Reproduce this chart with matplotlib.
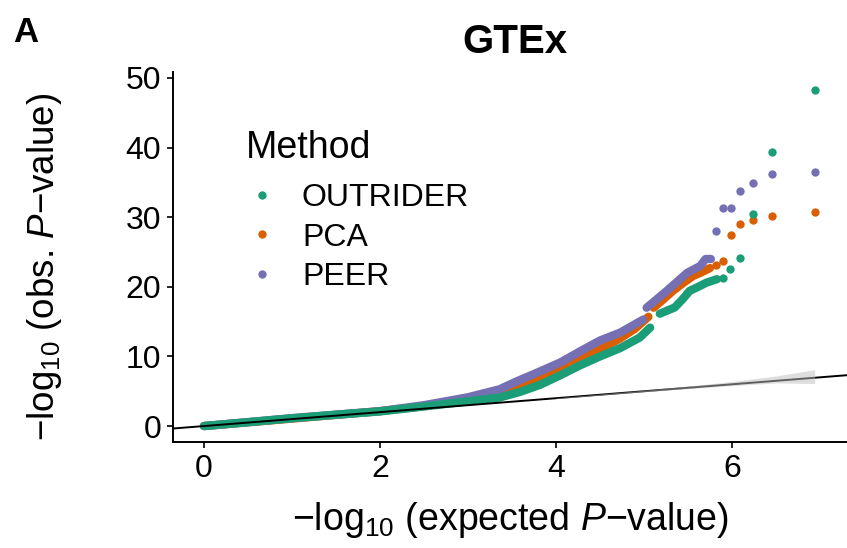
import matplotlib
matplotlib.use('Agg')
import matplotlib.pyplot as plt
from matplotlib.lines import Line2D

plt.rcParams['font.family'] = ['Liberation Sans', 'DejaVu Sans']
plt.rcParams['mathtext.fontset'] = 'custom'
plt.rcParams['mathtext.rm'] = 'Liberation Sans'
plt.rcParams['mathtext.it'] = 'Liberation Sans:italic'
plt.rcParams['mathtext.bf'] = 'Liberation Sans:bold'

methods = ['OUTRIDER', 'PCA', 'PEER']
colors = ['#1B9E77', '#D95F02', '#7570B3']

# OUTRIDER
outrider_band1_x = [0, 0.5, 1.0, 1.5, 2.0, 2.5, 3.0, 3.36, 3.59, 3.82, 4.05, 4.27, 4.5, 4.73, 4.95, 5.07]
outrider_band1_y = [0, 0.55, 1.12, 1.62, 2.1, 2.81, 3.55, 4.1, 4.9, 5.93, 7.3, 8.7, 10.0, 11.2, 12.7, 14.14]
outrider_band2_x = [5.18, 5.35, 5.44, 5.52, 5.60, 5.71, 5.83]
outrider_band2_y = [16.14, 17.04, 18.24, 19.43, 19.9, 20.6, 21.1]
outrider_tail_x = [5.90, 5.98, 6.094, 6.235, 6.46, 6.94]
outrider_tail_y = [21.24, 22.61, 24.14, 30.47, 39.43, 48.33]

# PCA
pca_band1_x = [0, 1.0, 2.0, 2.5, 3.0, 3.36, 3.82, 4.05, 4.27, 4.5, 4.73, 4.9, 5.05]
pca_band1_y = [0, 1.07, 2.14, 2.86, 3.9, 5.0, 6.7, 8.1, 9.5, 11.0, 12.6, 14.0, 15.7]
pca_band2_x = [5.11, 5.22, 5.33, 5.45, 5.56, 5.64, 5.75]
pca_band2_y = [17.0, 18.2, 19.43, 20.6, 21.57, 22.0, 22.7]
pca_tail_x = [5.82, 5.90, 5.985, 6.094, 6.235, 6.46, 6.94]
pca_tail_y = [23.14, 23.76, 27.39, 29.04, 29.53, 30.14, 30.81]

# PEER
peer_band1_x = [0, 0.5, 1.0, 1.5, 2.0, 2.5, 3.0, 3.36, 3.53, 3.82, 4.05, 4.27, 4.5, 4.73, 4.99]
peer_band1_y = [0, 0.57, 1.14, 1.64, 2.14, 3.0, 4.14, 5.29, 6.29, 7.86, 9.14, 10.71, 12.29, 13.43, 15.29]
peer_band2_x = [5.03, 5.26, 5.49, 5.64, 5.70, 5.76]
peer_band2_y = [17.0, 19.43, 22.0, 23.0, 24.0, 24.0]
peer_tail_x = [5.82, 5.90, 5.985, 6.094, 6.235, 6.46, 6.94]
peer_tail_y = [27.96, 31.3, 31.3, 33.76, 34.86, 36.24, 36.43]

# confidence band around y = x
ci_x = [4.0, 4.5, 5.0, 5.5, 6.0, 6.5, 6.94]
ci_lower = [3.97, 4.45, 4.93, 5.38, 5.8, 6.2, 6.1]
ci_upper = [4.05, 4.6, 5.15, 5.75, 6.4, 7.2, 8.1]

x_ticks = [0, 2, 4, 6]
y_ticks = [0, 10, 20, 30, 40, 50]

W, H = 847, 548
fig = plt.figure(figsize=(W / 100, H / 100), dpi=100)
ax = fig.add_axes([173 / W, (H - 442) / H, (W - 173) / W, (442 - 72) / H])

series = {
    'PCA': (pca_band1_x, pca_band1_y, pca_band2_x, pca_band2_y, pca_tail_x, pca_tail_y),
    'PEER': (peer_band1_x, peer_band1_y, peer_band2_x, peer_band2_y, peer_tail_x, peer_tail_y),
    'OUTRIDER': (outrider_band1_x, outrider_band1_y, outrider_band2_x, outrider_band2_y,
                 outrider_tail_x, outrider_tail_y),
}
cmap = dict(zip(methods, colors))
ms = 6.0
for z, name in enumerate(['PCA', 'PEER', 'OUTRIDER']):
    b1x, b1y, b2x, b2y, tx, ty = series[name]
    c = cmap[name]
    for bx, by in ((b1x, b1y), (b2x, b2y)):
        ax.plot(bx, by, color=c, lw=ms, solid_capstyle='round', solid_joinstyle='round',
                zorder=2 + z * 0.1)
    ax.scatter(tx, ty, s=ms ** 2, color=c, linewidths=0, zorder=2 + z * 0.1)

ax.axline((0, 0), slope=1, color='black', lw=1.4, zorder=3)
ax.fill_between(ci_x, ci_lower, ci_upper, color='#bebebe', alpha=0.5, lw=0, zorder=4)

ax.set_xlim(-0.352, 7.307)
ax.set_ylim(-2.29, 50.86)
ax.set_xticks(x_ticks)
ax.set_yticks(y_ticks)
ax.tick_params(labelsize=23, length=4.5, width=1.2, color='black', labelcolor='black', pad=4)
for s in ['top', 'right']:
    ax.spines[s].set_visible(False)
for s in ['left', 'bottom']:
    ax.spines[s].set_linewidth(1.4)

ax.set_xlabel(r'$-\mathrm{log}_{10}$ (expected $P$$-$value)', fontsize=27)
ax.xaxis.set_label_coords(0.5, (442 - 500) / 370)
ax.xaxis.label.set_va('top')
ax.set_ylabel(r'$-\mathrm{log}_{10}$ (obs. $P$$-$value)', fontsize=26.5)
ax.yaxis.set_label_coords((64 - 173) / 674, 0.473)
fig.text(515 / W, 1 - 53 / H, 'GTEx', fontsize=29, fontweight='bold', va='baseline', ha='center')
fig.text(13 / W, 1 - 16 / H, 'A', fontsize=25, fontweight='bold', va='top', ha='left')

handles = [Line2D([0], [0], marker='o', ls='none', color=c, markersize=ms, markeredgewidth=0)
           for c in colors]
leg = fig.legend(handles, methods, title='Method', loc='upper left',
                 bbox_to_anchor=(246 / W, 1 - 130 / H), frameon=False,
                 fontsize=23, title_fontsize=27, handlelength=1.0, handletextpad=0.75,
                 labelspacing=0.29, borderpad=0, borderaxespad=0)
leg._legend_box.align = 'left'
leg._legend_box.sep = 12.5

fig.savefig('out.png', dpi=100)
